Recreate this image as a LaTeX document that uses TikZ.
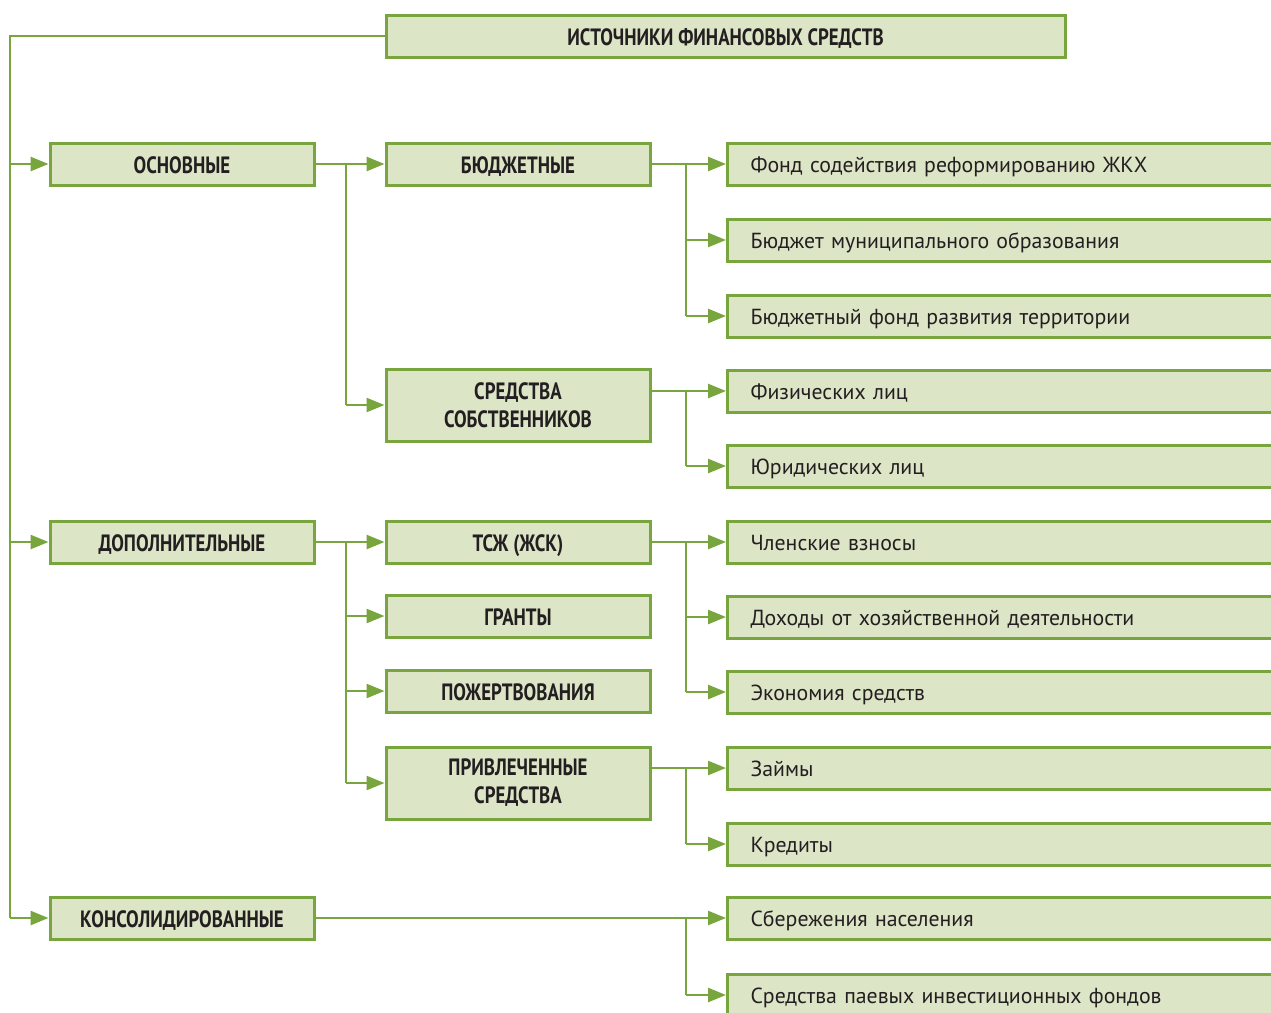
\documentclass[tikz,border=0pt]{standalone}
\usepackage{fontspec}
\setmainfont[WordSpace=0.6]{PT Sans}
\newfontfamily\hdr[FakeStretch=0.8]{PT Sans}
\usetikzlibrary{arrows.meta,calc}
\definecolor{boxfill}{RGB}{221,229,199}
\definecolor{boxline}{RGB}{120,165,62}
\definecolor{txt}{RGB}{35,31,32}
\begin{document}
\begin{tikzpicture}[x=1pt,y=-1pt,
  hbase/.style={draw=boxline, fill=boxfill, line width=3pt, minimum width=264pt,
    minimum height=42pt, inner sep=0pt, align=center, text=txt,
    font=\hdr\bfseries\fontsize{23.6}{28}\selectfont},
  hbox/.style={hbase, text height=18pt, text depth=0pt},
  tallbox/.style={hbase, minimum height=72pt},
  rbox/.style={draw=boxline, fill=boxfill, line width=3pt, minimum width=600pt,
    minimum height=42pt, inner sep=0pt, anchor=west, text width=554pt,
    text height=18pt, text depth=1pt,
    align=left, text=txt, font=\fontsize{21.8}{26}\selectfont},
  conn/.style={draw=boxline, line width=2.5pt},
  arr/.style={conn, -{Triangle[length=18pt,width=14pt]}}]
\useasboundingbox (0,0) rectangle (1271,1012);
\clip (0,0) rectangle (1271,1012);

% top
\node[hbox, minimum width=679pt] (top) at (725.5,36) {ИСТОЧНИКИ ФИНАНСОВЫХ СРЕДСТВ};

% level 1
\node[hbox] (osn) at (182,164) {ОСНОВНЫЕ};
\node[hbox] (dop) at (182,542) {ДОПОЛНИТЕЛЬНЫЕ};
\node[hbox] (kons) at (182,918) {КОНСОЛИДИРОВАННЫЕ};

% level 2
\node[hbox] (bud) at (518,164) {БЮДЖЕТНЫЕ};
\node[tallbox] (sob) at (518,405) {СРЕДСТВА\\СОБСТВЕННИКОВ};
\node[hbox] (tsj) at (518,542) {ТСЖ (ЖСК)};
\node[hbox] (gra) at (518,616) {ГРАНТЫ};
\node[hbox] (poz) at (518,691) {ПОЖЕРТВОВАНИЯ};
\node[tallbox] (pri) at (518,783) {ПРИВЛЕЧЕННЫЕ\\СРЕДСТВА};

% level 3
\node[rbox] (r1) at (726,164) {Фонд содействия реформированию ЖКХ};
\node[rbox] (r2) at (726,240) {Бюджет муниципального образования};
\node[rbox] (r3) at (726,316) {Бюджетный фонд развития территории};
\node[rbox] (r4) at (726,391) {Физических лиц};
\node[rbox] (r5) at (726,466) {Юридических лиц};
\node[rbox] (r6) at (726,542) {Членские взносы};
\node[rbox] (r7) at (726,617) {Доходы от хозяйственной деятельности};
\node[rbox] (r8) at (726,692) {Экономия средств};
\node[rbox] (r9) at (726,768) {Займы};
\node[rbox] (r10) at (726,844) {Кредиты};
\node[rbox] (r11) at (726,918) {Сбережения населения};
\node[rbox] (r12) at (726,995) {Средства паевых инвестиционных фондов};

% buses
\coordinate (t) at (10,0);
\coordinate (b1) at (346,0);
\coordinate (b2) at (686,0);

% trunk
\draw[conn] (top.west) -| (t |- kons.west);
\draw[arr] (t |- osn.west) -- (osn.west);
\draw[arr] (t |- dop.west) -- (dop.west);
\draw[arr] (t |- kons.west) -- (kons.west);

% osn
\draw[conn] (b1 |- osn.east) -- (b1 |- sob.west);
\draw[arr] (osn.east) -- (bud.west);
\draw[arr] (b1 |- sob.west) -- (sob.west);

% dop
\draw[conn] (b1 |- dop.east) -- (b1 |- pri.west);
\draw[arr] (dop.east) -- (tsj.west);
\draw[arr] (b1 |- gra.west) -- (gra.west);
\draw[arr] (b1 |- poz.west) -- (poz.west);
\draw[arr] (b1 |- pri.west) -- (pri.west);

% bud
\draw[conn] (b2 |- r1.west) -- (b2 |- r3.west);
\draw[arr] (bud.east) -- (r1.west);
\draw[arr] (b2 |- r2.west) -- (r2.west);
\draw[arr] (b2 |- r3.west) -- (r3.west);

% sob
\draw[conn] (b2 |- r4.west) -- (b2 |- r5.west);
\draw[arr] (sob.east |- r4.west) -- (r4.west);
\draw[arr] (b2 |- r5.west) -- (r5.west);

% tsj
\draw[conn] (b2 |- r6.west) -- (b2 |- r8.west);
\draw[arr] (tsj.east) -- (r6.west);
\draw[arr] (b2 |- r7.west) -- (r7.west);
\draw[arr] (b2 |- r8.west) -- (r8.west);

% pri
\draw[conn] (b2 |- r9.west) -- (b2 |- r10.west);
\draw[arr] (pri.east |- r9.west) -- (r9.west);
\draw[arr] (b2 |- r10.west) -- (r10.west);

% kons
\draw[conn] (b2 |- r11.west) -- (b2 |- r12.west);
\draw[arr] (kons.east) -- (r11.west);
\draw[arr] (b2 |- r12.west) -- (r12.west);
\end{tikzpicture}
\end{document}
